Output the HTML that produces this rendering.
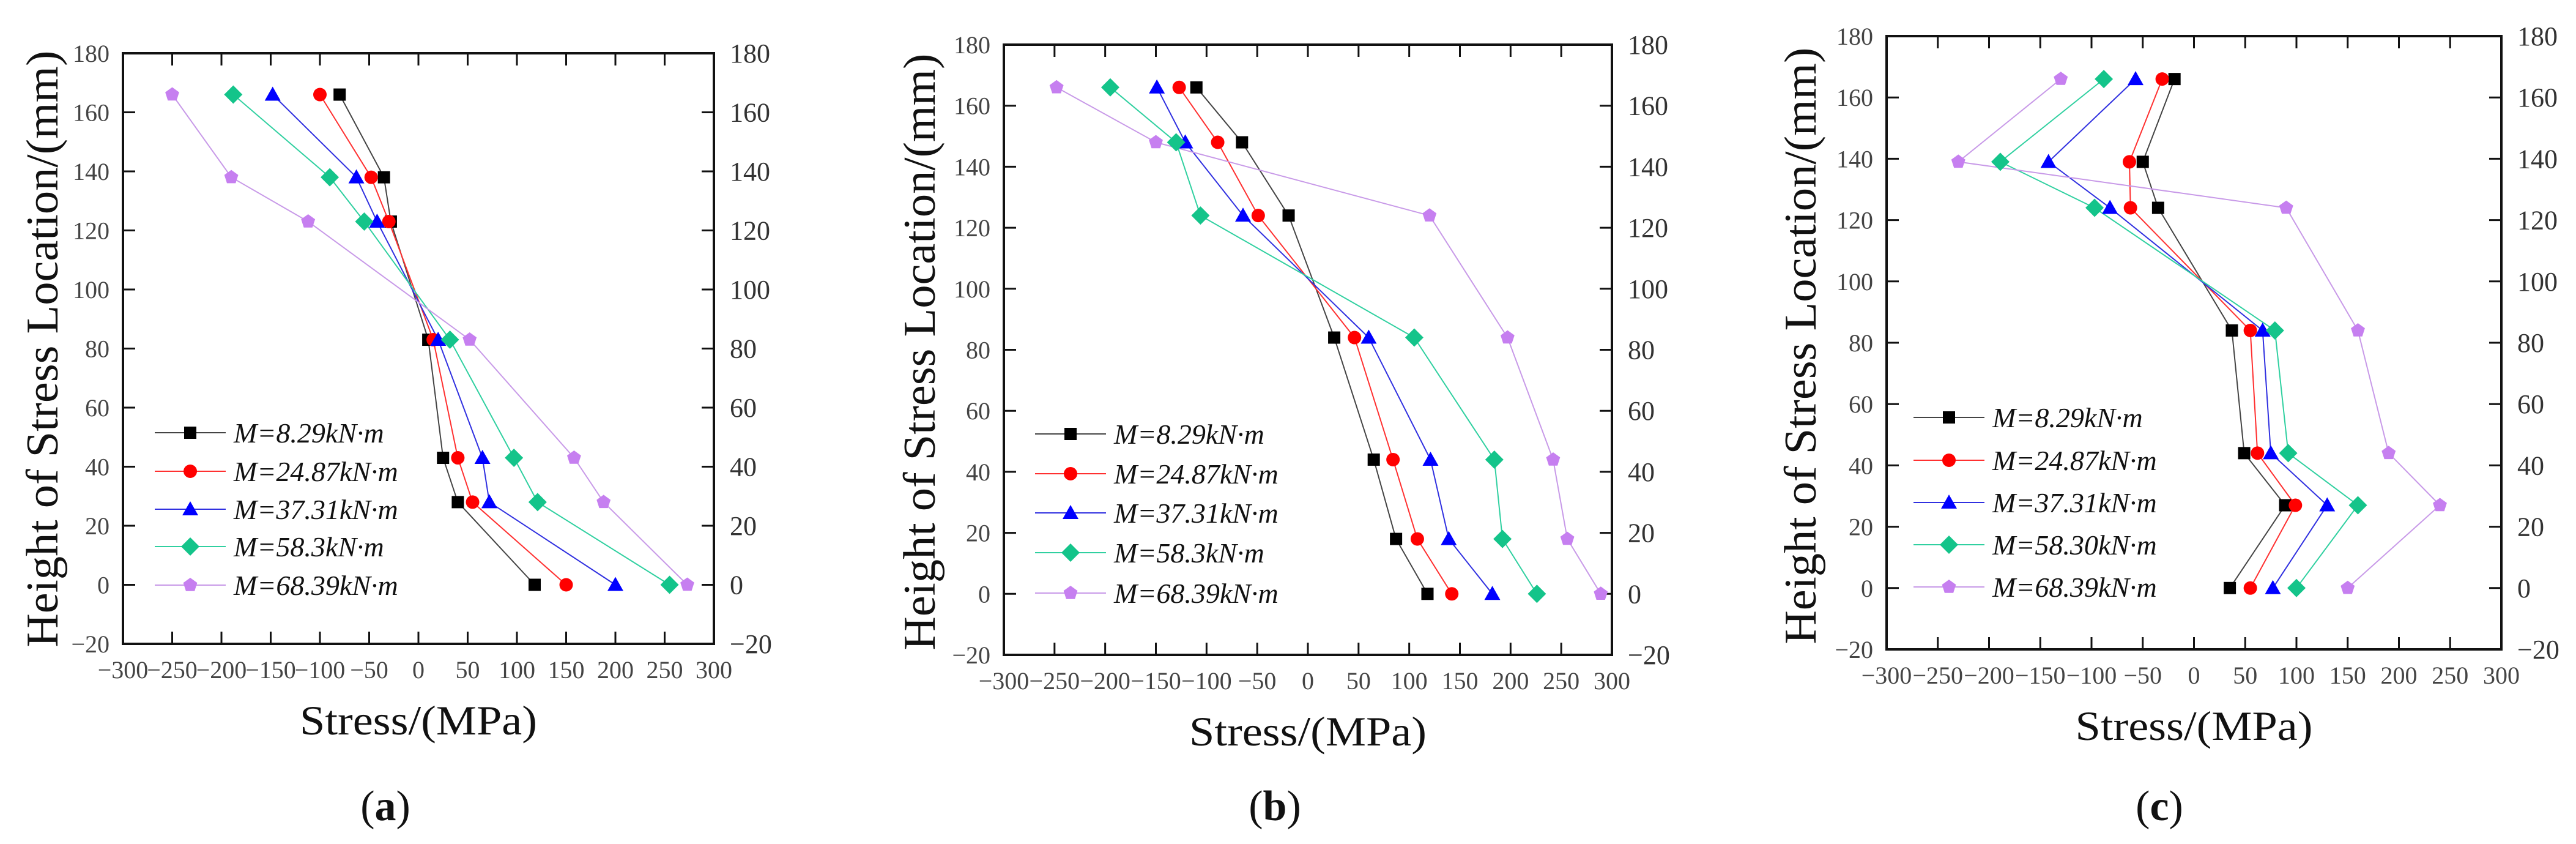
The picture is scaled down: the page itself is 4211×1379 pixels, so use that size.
<!DOCTYPE html>
<html><head><meta charset="utf-8"><style>
html,body{margin:0;padding:0;background:#fff;overflow:hidden;}
svg{display:block;}
svg text{font-family:"Liberation Serif","DejaVu Serif",serif;}
</style></head>
<body>
<svg id="fig" width="4211" height="1379" viewBox="0 0 4211 1379" xmlns="http://www.w3.org/2000/svg" font-family="Liberation Serif, DejaVu Serif, serif"></svg>
<script>
// ---- data ----
const legendLabelsA = ["M=8.29kN·m","M=24.87kN·m","M=37.31kN·m","M=58.3kN·m","M=68.39kN·m"];
const legendLabelsB = ["M=8.29kN·m","M=24.87kN·m","M=37.31kN·m","M=58.3kN·m","M=68.39kN·m"];
const legendLabelsC = ["M=8.29kN·m","M=24.87kN·m","M=37.31kN·m","M=58.30kN·m","M=68.39kN·m"];
const xTicks = [-300,-250,-200,-150,-100,-50,0,50,100,150,200,250,300];
const yTicks = [-20,0,20,40,60,80,100,120,140,160,180];

const heightsA = [166,138,123,83,43,28,0];
const a1 = [-80,-35,-28,10,25,40,118];
const a2 = [-100,-48,-30,15,40,55,150];
const a3 = [-148,-63,-42,20,65,72,200];
const a4 = [-188,-90,-55,32,97,121,255];
const a5 = [-250,-190,-112,52,158,188,273];

const heightsB = [166,148,124,84,44,18,0];
const b1 = [-110,-65,-19,26,65,87,118];
const b2 = [-127,-89,-49,46,84,108,142];
const b3 = [-149,-121,-64,60,121,139,182];
const b4 = [-195,-130,-106,105,184,192,226];
const b5 = [-248,-150,120,197,242,256,289];

const heightsC = [166,139,124,84,44,27,0];
const c1 = [-19,-50,-35,37,49,89,35];
const c2 = [-31,-63,-62,55,62,99,55];
const c3 = [-57,-142,-82,67,75,130,77];
const c4 = [-88,-189,-97,79,92,160,100];
const c5 = [-130,-230,90,160,190,240,150];

// ---- drawing ----
const NS="http://www.w3.org/2000/svg";
const FF='"Liberation Serif", "DejaVu Serif", serif';
const svg=document.getElementById('fig');
const colors=["#000000","#ff0000","#0000ff","#14c48a","#c67ff0"];
const lineColors=["#444444","#ff3030","#3030e0","#30d0a0","#c89ae8"];
const shapes=["square","circle","triangle","diamond","pentagon"];
function el(tag,attrs,parent){const e=document.createElementNS(NS,tag);for(const k in attrs)e.setAttribute(k,attrs[k]);if(tag==='text'){e.setAttribute('font-family',FF);e.style.fontFamily=FF;}(parent||svg).appendChild(e);return e;}
function marker(g,shape,x,y,c){
  let m;
  if(shape==="square") m=el('rect',{x:x-10,y:y-10,width:20,height:20,fill:c},g);
  else if(shape==="circle") m=el('circle',{cx:x,cy:y,r:11,fill:c},g);
  else if(shape==="triangle") m=el('polygon',{points:`${x},${y-13} ${x+13},${y+10} ${x-13},${y+10}`,fill:c},g);
  else if(shape==="diamond") m=el('polygon',{points:`${x},${y-15} ${x+15},${y} ${x},${y+15} ${x-15},${y}`,fill:c},g);
  else { let p=[];for(let i=0;i<5;i++){const a=-Math.PI/2+i*2*Math.PI/5;p.push((x+12*Math.cos(a)).toFixed(1)+','+(y+12*Math.sin(a)).toFixed(1));}
    m=el('polygon',{points:p.join(' '),fill:c},g);}
  
  
  return m;
}
function panel(cfg){
  const {L,R,T,B,id,heights,series,labels,legX,legRows,ytX,ytY,plX}=cfg;
  const g=el('g',{});
  
  
  const sx=v=>L+(v+300)/600*(R-L);
  const sy=v=>B-(v+20)/200*(B-T);
  xTicks.forEach(t=>{
    const x=sx(t);
    if(t>-300&&t<300){
      const tb=el('line',{x1:x,y1:B,x2:x,y2:B-20,stroke:'#111','stroke-width':3},g);
      
      const tt=el('line',{x1:x,y1:T,x2:x,y2:T+20,stroke:'#111','stroke-width':3},g);
      
    }
    const lab=el('text',{x:x,y:B+56,'font-size':40,fill:'#444','text-anchor':'middle'},g);
    lab.textContent=(t<0?'\u2212':'')+Math.abs(t);
    
  });
  yTicks.forEach(t=>{
    const y=sy(t);
    if(t>-20&&t<180){
      const tl=el('line',{x1:L,y1:y,x2:L+20,y2:y,stroke:'#111','stroke-width':3},g);
      
      const tr=el('line',{x1:R,y1:y,x2:R-20,y2:y,stroke:'#111','stroke-width':3},g);
      
    }
    const s=(t<0?'\u2212':'')+Math.abs(t);
    const l1=el('text',{x:L-22,y:y+14,'font-size':40,fill:'#444','text-anchor':'end'},g);
    l1.textContent=s;
    
    const l2=el('text',{x:R+26,y:y+15,'font-size':44,fill:'#333','text-anchor':'start'},g);
    l2.textContent=s;
    
  });
  const fr=el('rect',{x:L,y:T,width:R-L,height:B-T,fill:'none',stroke:'#111','stroke-width':4},g);
  
  series.forEach((vals,si)=>{
    const pts=vals.map((v,i)=>sx(v).toFixed(1)+','+sy(heights[i]).toFixed(1)).join(' ');
    const pl=el('polyline',{points:pts,fill:'none',stroke:lineColors[si],'stroke-width':2},g);
    
  });
  series.forEach((vals,si)=>{
    vals.forEach((v,i)=>marker(g,shapes[si],sx(v),sy(heights[i]),colors[si]));
  });
  labels.forEach((lab,i)=>{
    const y=legRows[i];
    const ll=el('line',{x1:legX,y1:y,x2:legX+116,y2:y,stroke:lineColors[i],'stroke-width':2},g);
    
    marker(g,shapes[i],legX+58,y,colors[i]);
    const t=el('text',{x:legX+129,y:y+16,'font-size':46,'font-style':'italic',fill:'#111'},g);
    t.textContent=lab;
    
  });
  const xt=el('text',{x:(L+R)/2,y:B+148,'font-size':68,fill:'#111','text-anchor':'middle',textLength:388,lengthAdjust:'spacingAndGlyphs'},g);
  xt.textContent='Stress/(MPa)';
  
  const yt=el('text',{x:0,y:0,'font-size':74,fill:'#111','text-anchor':'middle',textLength:975,lengthAdjust:'spacingAndGlyphs',transform:`translate(${ytX},${ytY}) rotate(-90)`},g);
  yt.textContent='Height of Stress Location/(mm)';
  
  const pl=el('text',{x:plX,y:1340,'font-size':70,fill:'#111','text-anchor':'middle'},g);
  pl.innerHTML='(<tspan font-weight="bold">'+id+'</tspan>)';
  
}
panel({id:'a',L:201,R:1167,T:87,B:1052,heights:heightsA,series:[a1,a2,a3,a4,a5],labels:legendLabelsA,
  legX:253,legRows:[707,770,832,893,956],ytX:94,ytY:570,plX:630});
panel({id:'b',L:1641,R:2635,T:73,B:1070,heights:heightsB,series:[b1,b2,b3,b4,b5],labels:legendLabelsB,
  legX:1692,legRows:[709,774,838,903,969],ytX:1528,ytY:575,plX:2084});
panel({id:'c',L:3084,R:4089,T:59,B:1061,heights:heightsC,series:[c1,c2,c3,c4,c5],labels:legendLabelsC,
  legX:3128,legRows:[682,752,821,890,959],ytX:2968,ytY:565,plX:3530});
</script>
</body></html>
